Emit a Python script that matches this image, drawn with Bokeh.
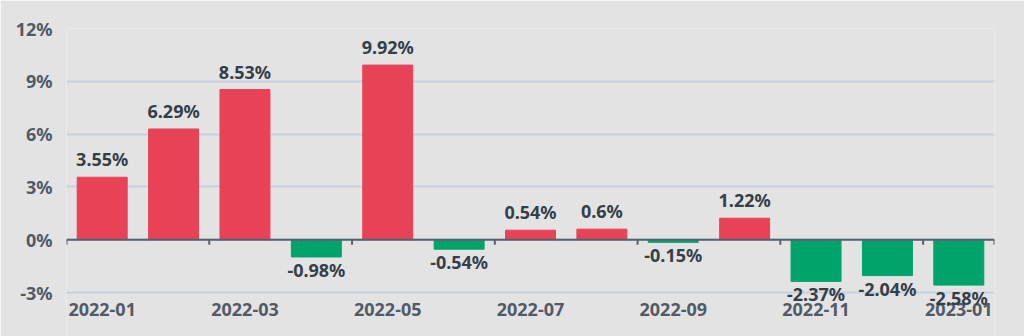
from bokeh.plotting import figure
from bokeh.models import ColumnDataSource, FixedTicker, Span, Range1d
from bokeh.embed import file_html
from bokeh.resources import INLINE
from bokeh.core.properties import value

months = ["2022-01", "2022-02", "2022-03", "2022-04", "2022-05", "2022-06", "2022-07",
          "2022-08", "2022-09", "2022-10", "2022-11", "2022-12", "2023-01"]
returns = [3.55, 6.29, 8.53, -0.98, 9.92, -0.54, 0.54, 0.6, -0.15, 1.22, -2.37, -2.04, -2.58]
y_ticks = [-3, 0, 3, 6, 9, 12]

RED = "#e84256"
GREEN = "#00a36a"
BG = "#e3e3e3"
TEXT = "#505b67"
FONT = "Noto Sans"
FSIZE = "18px"

n = len(months)
xs = list(range(n))
colors = [RED if v >= 0 else GREEN for v in returns]
labels = [f"{v}%" for v in returns]
offsets = [-18 if v >= 0 else 13 for v in returns]

src = ColumnDataSource(dict(x=xs, top=returns, color=colors, label=labels, off=offsets))

px_per_unit = 264 / 15
y_bottom = y_ticks[0] - 44 / px_per_unit

p = figure(width=1024, height=336, output_backend="svg", toolbar_location=None,
           x_range=Range1d(-0.5, n - 0.5), y_range=Range1d(y_bottom, y_ticks[-1]),
           min_border_left=66, min_border_right=30, min_border_top=28, min_border_bottom=0,
           background_fill_color=BG, border_fill_color=BG, outline_line_color=None)
p.xaxis.visible = False

p.vbar(x="x", top="top", bottom=0, width=0.7, color="color", source=src)

# zero axis line with ticks at category boundaries (every two categories)
p.add_layout(Span(location=0, dimension="width", line_color="#58626c", line_width=2))
bounds = [i - 0.5 for i in range(0, n, 2)] + [n - 0.5]
tick_len = 5 / px_per_unit
p.segment(x0=bounds, y0=[0] * len(bounds), x1=bounds, y1=[-tick_len] * len(bounds),
          line_color="#58626c", line_width=2)

# month labels (every other category), placed below the lowest gridline
mx = xs[::2]
p.text(x=mx, y=[y_ticks[0]] * len(mx), text=[months[i] for i in mx], y_offset=17,
       text_align="center", text_baseline="alphabetic",
       text_font=value(FONT), text_font_size=FSIZE, text_font_style="bold", text_color=TEXT)

p.text(x="x", y="top", text="label", y_offset="off", source=src,
       text_align="center", text_baseline="alphabetic",
       text_font=value(FONT), text_font_size=FSIZE, text_font_style="bold", text_color="#343f49")

p.yaxis.ticker = FixedTicker(ticks=y_ticks)
p.yaxis.major_label_overrides = {t: f"{t}%" for t in y_ticks}
p.yaxis.axis_line_color = None
p.yaxis.major_tick_line_color = None
p.yaxis.minor_tick_line_color = None
p.yaxis.major_label_standoff = 8
p.yaxis.major_label_text_font = FONT
p.yaxis.major_label_text_font_size = FSIZE
p.yaxis.major_label_text_font_style = "bold"
p.yaxis.major_label_text_color = TEXT

p.xgrid.visible = False
p.ygrid.ticker = FixedTicker(ticks=y_ticks)
p.ygrid.grid_line_color = "#c6d2e0"
p.ygrid.grid_line_width = 2

open("out.html", "w").write(file_html(p, INLINE))
